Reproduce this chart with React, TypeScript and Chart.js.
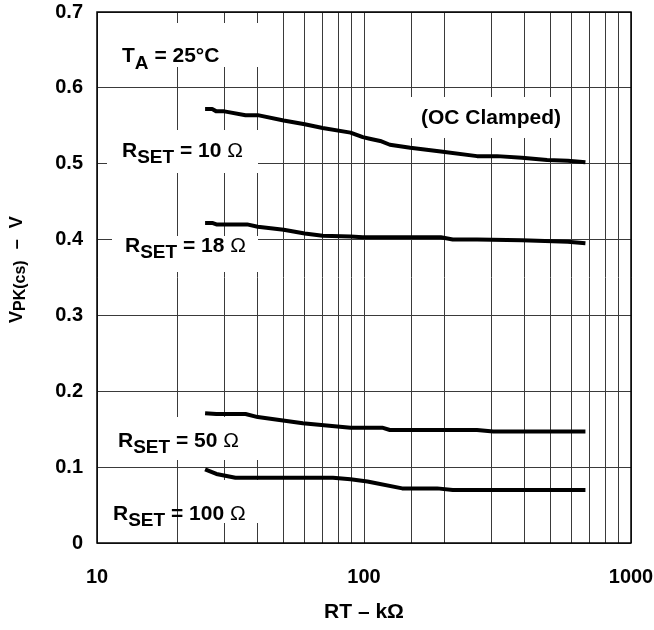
import React, { useEffect, useRef } from 'react';
import { Chart, registerables } from 'chart.js';

Chart.register(...registerables);

// ---- Data ----
const rt10 = [25.4, 27, 28, 30, 36, 40, 50, 60, 70, 89, 99, 105, 115, 125, 149, 194, 265, 315, 390, 485, 580, 675];
const vpk10 = [0.572, 0.572, 0.569, 0.569, 0.564, 0.564, 0.557, 0.552, 0.547, 0.541, 0.535, 0.533, 0.530, 0.525, 0.521, 0.516, 0.510, 0.510, 0.508, 0.505, 0.504, 0.502];

const rt18 = [25.4, 27, 28, 36.5, 40, 50, 60, 70, 89, 99, 125, 194, 215, 265, 390, 580, 675];
const vpk18 = [0.422, 0.422, 0.420, 0.420, 0.417, 0.413, 0.408, 0.405, 0.404, 0.403, 0.403, 0.403, 0.400, 0.400, 0.399, 0.397, 0.395];

const rt50 = [25.4, 28, 36, 40, 59, 89, 117, 125, 265, 305, 675];
const vpk50 = [0.171, 0.170, 0.170, 0.166, 0.158, 0.152, 0.152, 0.149, 0.149, 0.147, 0.147];

const rt100 = [25.4, 28, 33, 76.5, 89, 103, 139, 188, 215, 675];
const vpk100 = [0.097, 0.091, 0.086, 0.086, 0.084, 0.081, 0.072, 0.072, 0.070, 0.070];

const xTickLabels = [10, 100, 1000];
const yTickValues = [0, 0.1, 0.2, 0.3, 0.4, 0.5, 0.6, 0.7];

const xTitle = 'RT \u2013 k\u03A9';

const FONT = '"Liberation Sans", Arial, Helvetica, sans-serif';

type Part = { t: string; s: number; dy?: number; w?: string; gap?: number };

function drawParts(ctx: CanvasRenderingContext2D, parts: Part[], x: number, y: number) {
  let cx = x;
  for (const p of parts) {
    ctx.font = `${p.w || 'bold'} ${p.s}px ${FONT}`;
    ctx.fillText(p.t, cx, y + (p.dy || 0));
    cx += ctx.measureText(p.t).width + (p.gap || 0);
  }
}

const rset = (val: string): Part[] => [
  { t: 'R', s: 21 },
  { t: 'SET', s: 19, dy: 6 },
  { t: ` = ${val} `, s: 21 },
  { t: '\u03A9', s: 21, w: 'normal' },
];

const labels: { parts: Part[]; x: number; y: number; box: [number, number, number, number] }[] = [
  { parts: [{ t: 'T', s: 21 }, { t: 'A', s: 19, dy: 7 }, { t: ' = 25\u00B0C', s: 21 }], x: 122, y: 62, box: [105, 23, 262, 67] },
  { parts: rset('10'), x: 122, y: 157, box: [107, 130, 258, 173] },
  { parts: [{ t: '(OC Clamped)', s: 21 }], x: 421, y: 124, box: [410, 97, 570, 138] },
  { parts: rset('18'), x: 125, y: 252, box: [112, 236, 258, 272] },
  { parts: rset('50'), x: 118, y: 447, box: [105, 417, 262, 460] },
  { parts: rset('100'), x: 113, y: 520, box: [181, 480, 262, 523] },
];

const annotPlugin = {
  id: 'annot',
  beforeDatasetsDraw(chart: any) {
    const ctx: CanvasRenderingContext2D = chart.ctx;
    ctx.save();
    ctx.fillStyle = '#ffffff';
    for (const l of labels) {
      const [x0, y0, x1, y1] = l.box;
      ctx.fillRect(x0, y0, x1 - x0, y1 - y0);
    }
    ctx.fillStyle = '#000000';
    ctx.textAlign = 'left';
    ctx.textBaseline = 'alphabetic';
    for (const l of labels) drawParts(ctx, l.parts, l.x, l.y);
    ctx.restore();
  },
  afterDatasetsDraw(chart: any) {
    const ctx: CanvasRenderingContext2D = chart.ctx;
    const a = chart.chartArea;
    ctx.save();
    ctx.strokeStyle = '#000';
    ctx.lineWidth = 1.5;
    ctx.strokeRect(a.left, a.top, a.right - a.left, a.bottom - a.top);
    // y-axis title with subscript
    ctx.translate(22, 323);
    ctx.rotate(-Math.PI / 2);
    ctx.fillStyle = '#000';
    ctx.textAlign = 'left';
    ctx.textBaseline = 'alphabetic';
    drawParts(
      ctx,
      [
        { t: 'V', s: 18 },
        { t: 'PK(cs)', s: 16, dy: 3, gap: 11 },
        { t: '\u2013', s: 18, gap: 11 },
        { t: 'V', s: 18 },
      ],
      0,
      0
    );
    ctx.restore();
  },
};

export default function App() {
  const ref = useRef<HTMLCanvasElement | null>(null);
  useEffect(() => {
    document.body.style.margin = '0';
    document.body.style.overflow = 'hidden';
    if (!ref.current) return;
    const mk = (xs: number[], ys: number[], label: string) => ({
      label,
      data: xs.map((x, i) => ({ x, y: ys[i] })),
      showLine: true,
      borderColor: '#000',
      borderWidth: 4,
      pointRadius: 0,
      tension: 0,
      fill: false,
      borderJoinStyle: 'round' as const,
    });
    const chart = new Chart(ref.current, {
      type: 'scatter',
      data: {
        datasets: [
          mk(rt10, vpk10, 'RSET = 10 Ω'),
          mk(rt18, vpk18, 'RSET = 18 Ω'),
          mk(rt50, vpk50, 'RSET = 50 Ω'),
          mk(rt100, vpk100, 'RSET = 100 Ω'),
        ],
      },
      options: {
        responsive: false,
        animation: false,
        devicePixelRatio: 1,
        layout: { padding: { left: 0, right: 23, top: 12, bottom: 0 } },
        plugins: { legend: { display: false }, tooltip: { enabled: false } },
        scales: {
          x: {
            type: 'logarithmic',
            min: 10,
            max: 1000,
            grid: { color: '#3a3a3a', lineWidth: 1, drawTicks: false },
            border: { display: false },
            ticks: {
              autoSkip: false,
              maxRotation: 0,
              minRotation: 0,
              padding: 22,
              color: '#000',
              font: { family: FONT, size: 20, weight: 'bold' },
              callback: (v: any) => (xTickLabels.includes(Number(v)) ? String(v) : ''),
            },
            title: {
              display: true,
              text: xTitle,
              color: '#000',
              font: { family: FONT, size: 21, weight: 'bold' },
              padding: { top: 0, bottom: 5 },
            },
            afterFit: (s: any) => {
              s.height = 87;
              s.paddingLeft = 0;
              s.paddingRight = 0;
            },
          },
          y: {
            type: 'linear',
            min: 0,
            max: 0.7,
            grid: { color: '#3a3a3a', lineWidth: 1, drawTicks: false },
            border: { display: false },
            afterBuildTicks: (s: any) => {
              s.ticks = yTickValues.map((v) => ({ value: v }));
            },
            ticks: {
              padding: 14,
              color: '#000',
              font: { family: FONT, size: 20, weight: 'bold' },
              callback: (v: any) => (Number(v) === 0 ? '0' : Number(v).toFixed(1)),
            },
            afterFit: (s: any) => {
              s.width = 97;
              s.paddingTop = 0;
              s.paddingBottom = 0;
            },
          },
        },
      },
      plugins: [annotPlugin],
    } as any);
    return () => chart.destroy();
  }, []);
  return (
    <div>
      <canvas ref={ref} width={654} height={630} style={{ display: 'block', width: 654, height: 630 }} />
    </div>
  );
}
